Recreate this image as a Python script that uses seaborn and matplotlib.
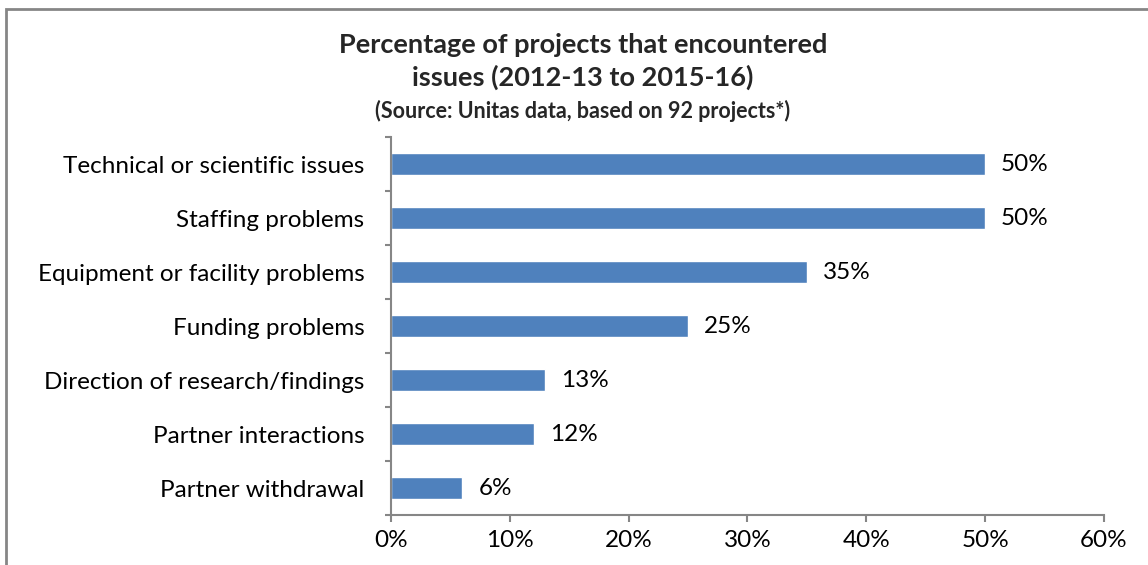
import numpy as np
import pandas as pd
import seaborn as sns
import matplotlib.pyplot as plt
from matplotlib.patches import Rectangle
from matplotlib.ticker import FixedLocator, PercentFormatter

categories = [
    "Technical or scientific issues",
    "Staffing problems",
    "Equipment or facility problems",
    "Funding problems",
    "Direction of research/findings",
    "Partner interactions",
    "Partner withdrawal",
]
percentages = [50, 50, 35, 25, 13, 12, 6]
x_ticks = [0, 10, 20, 30, 40, 50, 60]

df = pd.DataFrame({"issue": categories, "pct": percentages})

sns.set_theme(style="white")
plt.rcParams["font.family"] = ["Lato", "DejaVu Sans"]

fig = plt.figure(figsize=(11.48, 5.65), dpi=100)
ax = fig.add_axes([391 / 1148, 50 / 565, (1104 - 391) / 1148, (515 - 137) / 565])

sns.barplot(data=df, y="issue", x="pct", orient="h", color="#4F81BD",
            saturation=1, width=0.4, ax=ax)

for i, v in enumerate(percentages):
    ax.annotate(f"{v}%", xy=(v, i), xytext=(11.5, 0), textcoords="offset points",
                va="center", ha="left", fontsize=17.5, color="black")

ax.set_xlim(0, 60)
ax.set_ylim(len(categories) - 0.5, -0.5)
ax.set_xticks(x_ticks)
ax.xaxis.set_major_formatter(PercentFormatter(decimals=0))
ax.set_xlabel("")
ax.set_ylabel("")

ax.yaxis.set_minor_locator(FixedLocator(np.arange(-0.5, len(categories), 1)))
ax.tick_params(axis="y", which="major", length=0, pad=19, labelsize=17.5, labelcolor="black")
ax.tick_params(axis="y", which="minor", left=True, length=4.5, width=1.5, color="#868686")
ax.tick_params(axis="x", which="major", bottom=True, length=5, width=1.5,
               color="#868686", pad=6, labelsize=17.5, labelcolor="black")

for side in ["top", "right"]:
    ax.spines[side].set_visible(False)
for side in ["left", "bottom"]:
    ax.spines[side].set_color("#868686")
    ax.spines[side].set_linewidth(1.5)

fig.text(583 / 1148, 1 - 45 / 565, "Percentage of projects that encountered",
         ha="center", va="center", fontsize=19.5, fontweight="bold")
fig.text(583 / 1148, 1 - 77 / 565, "issues (2012-13 to 2015-16)",
         ha="center", va="center", fontsize=19.5, fontweight="bold")
fig.text(583 / 1148, 1 - 111 / 565, "(Source: Unitas data, based on 92 projects*)",
         ha="center", va="center", fontsize=15.5, fontweight="bold")

fig.patches.append(Rectangle((6 / 1148, -0.1), 1.2, 1 - 9 / 565 + 0.1,
                             transform=fig.transFigure, fill=False,
                             edgecolor="#868686", linewidth=2))

fig.savefig("out.png", dpi=100)
